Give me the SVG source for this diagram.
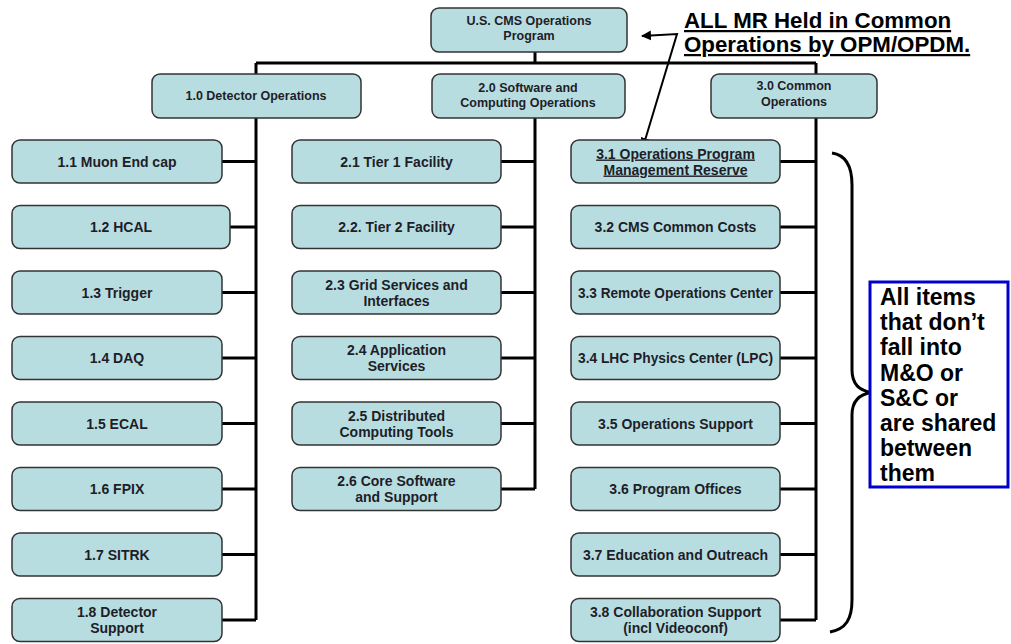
<svg xmlns="http://www.w3.org/2000/svg" width="1011" height="644" viewBox="0 0 1011 644">
<defs>
<marker id="ah" viewBox="0 0 10 10" refX="9" refY="5" markerWidth="10" markerHeight="10" markerUnits="userSpaceOnUse" orient="auto-start-reverse">
<path d="M0,0 L10,5 L0,10 z" fill="#000"/>
</marker>
<style>
.box{fill:#b8dde1;stroke:#333;stroke-width:1.5}
.t{font-family:"Liberation Sans",Arial,sans-serif;font-weight:bold;font-size:14px;fill:#1e1e28;text-anchor:middle}
.s{font-size:12.5px}
.ln{stroke:#000;stroke-width:3;fill:none}
.u{text-decoration:underline}
.big{font-family:"Liberation Sans",Arial,sans-serif;font-weight:bold;font-size:22.3px;fill:#000}
</style>
</defs>
<rect width="1011" height="644" fill="#fff"/>

<g id="connectors">
<path class="ln" d="M535,52 V63 M256,63 H816 M256,63 V74 M816,63 V75"/>
<path class="ln" d="M256,118 V620 M222,161.5 H256 M230,227 H256 M222,292.5 H256 M222,358 H256 M222,423.5 H256 M222,489 H256 M222,554.5 H256 M222,620 H256"/>
<path class="ln" d="M535,118 V489 M501,161.5 H535 M501,227 H535 M501,292.5 H535 M501,358 H535 M501,423.5 H535 M501,489 H535"/>
<path class="ln" d="M816,118 V620 M780,161.5 H816 M780,227 H816 M780,292.5 H816 M780,358 H816 M780,423.5 H816 M780,489 H816 M780,554.5 H816 M780,620 H816"/>
<polyline points="642,36 677,34 643,147" fill="none" stroke="#000" stroke-width="2" marker-start="url(#ah)" marker-end="url(#ah)"/>
</g>

<g id="root"><rect class="box" x="431" y="8" width="196" height="44" rx="8"/><text class="t s" x="529" y="25">U.S. CMS Operations</text><text class="t s" x="529" y="40">Program</text></g>

<g id="n1_0"><rect class="box" x="152" y="74" width="209" height="44" rx="8"/><text class="t s" x="256" y="100">1.0 Detector Operations</text></g>
<g id="n2_0"><rect class="box" x="432" y="74" width="193" height="44" rx="8"/><text class="t s" x="528" y="92">2.0 Software and</text><text class="t s" x="528" y="107">Computing Operations</text></g>
<g id="n3_0"><rect class="box" x="711" y="74" width="166" height="44" rx="8"/><text class="t s" x="794" y="90">3.0 Common</text><text class="t s" x="794" y="106">Operations</text></g>

<g id="n1_1"><rect class="box" x="12" y="140" width="210" height="43" rx="8"/><text class="t" x="117" y="166.5">1.1 Muon End cap</text></g>
<g id="n1_2"><rect class="box" x="12" y="205.5" width="218" height="43" rx="8"/><text class="t" x="121" y="232">1.2 HCAL</text></g>
<g id="n1_3"><rect class="box" x="12" y="271" width="210" height="43" rx="8"/><text class="t" x="117" y="297.5">1.3 Trigger</text></g>
<g id="n1_4"><rect class="box" x="12" y="336.5" width="210" height="43" rx="8"/><text class="t" x="117" y="363">1.4 DAQ</text></g>
<g id="n1_5"><rect class="box" x="12" y="402" width="210" height="43" rx="8"/><text class="t" x="117" y="428.5">1.5 ECAL</text></g>
<g id="n1_6"><rect class="box" x="12" y="467.5" width="210" height="43" rx="8"/><text class="t" x="117" y="494">1.6 FPIX</text></g>
<g id="n1_7"><rect class="box" x="12" y="533" width="210" height="43" rx="8"/><text class="t" x="117" y="559.5">1.7 SITRK</text></g>
<g id="n1_8"><rect class="box" x="12" y="598.5" width="210" height="43" rx="8"/><text class="t" x="117" y="617">1.8 Detector</text><text class="t" x="117" y="633">Support</text></g>

<g id="n2_1"><rect class="box" x="292" y="140" width="209" height="43" rx="8"/><text class="t" x="396.5" y="166.5">2.1 Tier 1 Facility</text></g>
<g id="n2_2"><rect class="box" x="292" y="205.5" width="209" height="43" rx="8"/><text class="t" x="396.5" y="232">2.2. Tier 2 Facility</text></g>
<g id="n2_3"><rect class="box" x="292" y="271" width="209" height="43" rx="8"/><text class="t" x="396.5" y="289.5">2.3 Grid Services and</text><text class="t" x="396.5" y="305.5">Interfaces</text></g>
<g id="n2_4"><rect class="box" x="292" y="336.5" width="209" height="43" rx="8"/><text class="t" x="396.5" y="355">2.4 Application</text><text class="t" x="396.5" y="371">Services</text></g>
<g id="n2_5"><rect class="box" x="292" y="402" width="209" height="43" rx="8"/><text class="t" x="396.5" y="420.5">2.5 Distributed</text><text class="t" x="396.5" y="436.5">Computing Tools</text></g>
<g id="n2_6"><rect class="box" x="292" y="467.5" width="209" height="43" rx="8"/><text class="t" x="396.5" y="486">2.6 Core Software</text><text class="t" x="396.5" y="502">and Support</text></g>

<g id="n3_1"><rect class="box" x="571" y="140" width="209" height="43" rx="8"/><text class="t u" x="675.5" y="158.5">3.1 Operations Program</text><text class="t u" x="675.5" y="174.5">Management Reserve</text></g>
<g id="n3_2"><rect class="box" x="571" y="205.5" width="209" height="43" rx="8"/><text class="t" x="675.5" y="232">3.2 CMS Common Costs</text></g>
<g id="n3_3"><rect class="box" x="571" y="271" width="209" height="43" rx="8"/><text class="t" x="675.5" y="297.5" textLength="195" lengthAdjust="spacingAndGlyphs">3.3 Remote Operations Center</text></g>
<g id="n3_4"><rect class="box" x="571" y="336.5" width="209" height="43" rx="8"/><text class="t" x="675.5" y="363" textLength="195" lengthAdjust="spacingAndGlyphs">3.4 LHC Physics Center (LPC)</text></g>
<g id="n3_5"><rect class="box" x="571" y="402" width="209" height="43" rx="8"/><text class="t" x="675.5" y="428.5">3.5 Operations Support</text></g>
<g id="n3_6"><rect class="box" x="571" y="467.5" width="209" height="43" rx="8"/><text class="t" x="675.5" y="494">3.6 Program Offices</text></g>
<g id="n3_7"><rect class="box" x="571" y="533" width="209" height="43" rx="8"/><text class="t" x="675.5" y="559.5">3.7 Education and Outreach</text></g>
<g id="n3_8"><rect class="box" x="571" y="598.5" width="209" height="43" rx="8"/><text class="t" x="675.5" y="617">3.8 Collaboration Support</text><text class="t" x="675.5" y="633">(incl Videoconf)</text></g>

<g id="title"><text class="big u" x="684" y="28">ALL MR Held in Common</text><text class="big u" x="684" y="52">Operations by OPM/OPDM.</text></g>

<g id="brace"><path class="ln" d="M832,153 C846,155 852,166 852,185 L852,370 C852,384 860,391 872,392.5 C860,394 852,401 852,415 L852,600 C852,619 846,629 830,632"/></g>

<g id="note"><rect x="870" y="282" width="138" height="205" fill="#fff" stroke="#0000cc" stroke-width="3"/>
<g class="big" style="font-size:23px">
<text x="880" y="305">All items</text>
<text x="880" y="330">that don’t</text>
<text x="880" y="355">fall into</text>
<text x="880" y="381">M&amp;O or</text>
<text x="880" y="406">S&amp;C or</text>
<text x="880" y="431">are shared</text>
<text x="880" y="456">between</text>
<text x="880" y="481">them</text>
</g></g>
</svg>
